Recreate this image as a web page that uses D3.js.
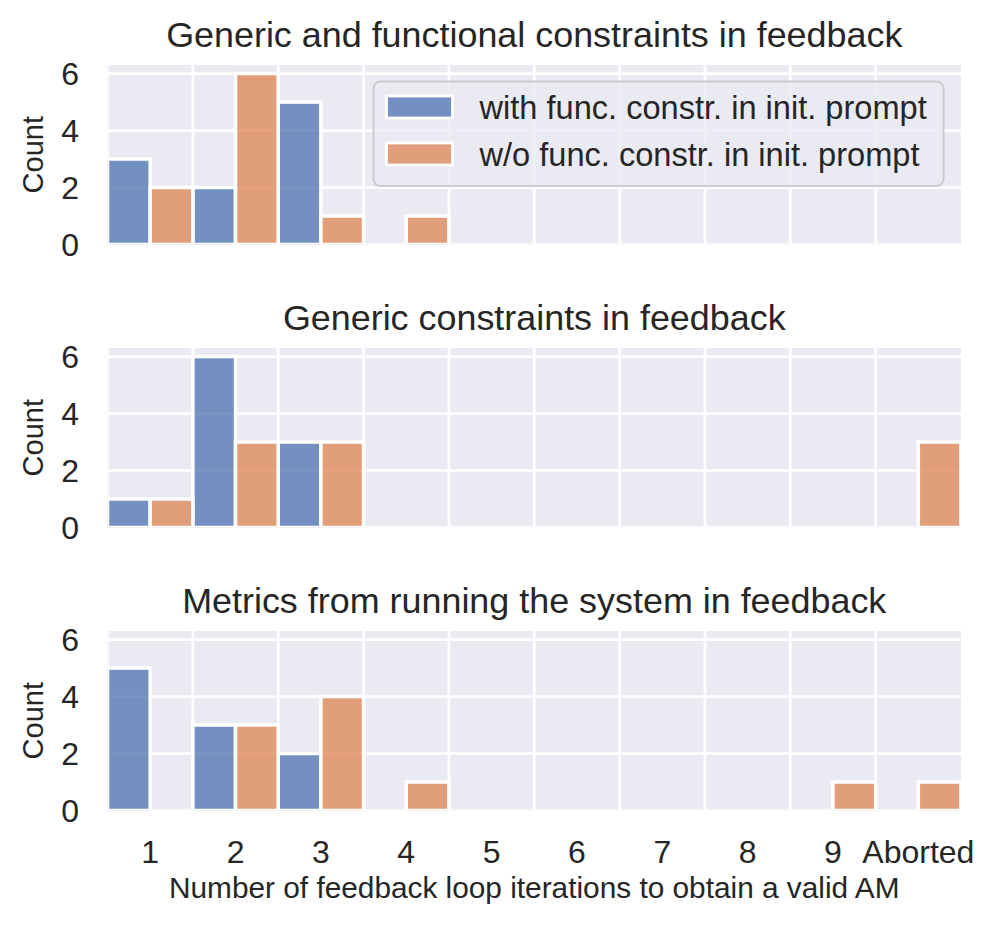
<!DOCTYPE html>
<html>
<head>
<meta charset="utf-8">
<script src="https://cdn.jsdelivr.net/npm/d3@7"></script>
<style>
  body { margin: 0; background: #fff; }
  text { font-family: "Liberation Sans", Arial, sans-serif; fill: #262626; }
</style>
</head>
<body>
<svg class="chart"></svg>
<script>
// categories on the x axis
const categories = ['1', '2', '3', '4', '5', '6', '7', '8', '9', 'Aborted'];
const series = ['with func. constr. in init. prompt', 'w/o func. constr. in init. prompt'];
const titles = [
    'Generic and functional constraints in feedback',
    'Generic constraints in feedback',
    'Metrics from running the system in feedback'
];

// counts per category, one array per panel and series
const genFuncWith = [3, 2, 5, 0, 0, 0, 0, 0, 0, 0];
const genFuncWithout = [2, 6, 1, 1, 0, 0, 0, 0, 0, 0];
const genericWith = [1, 6, 3, 0, 0, 0, 0, 0, 0, 0];
const genericWithout = [1, 3, 3, 0, 0, 0, 0, 0, 0, 3];
const metricsWith = [5, 3, 2, 0, 0, 0, 0, 0, 0, 0];
const metricsWithout = [0, 3, 4, 1, 0, 0, 0, 0, 1, 1];

const yTicks = [0, 2, 4, 6];

const panels = [
    [genFuncWith, genFuncWithout],
    [genericWith, genericWithout],
    [metricsWith, metricsWithout]
];

const colors = ['#4c72b0', '#dd8452'];

var width = 997,
    height = 932;

let left = 107.5, right = 961;
let panelTop = [65, 348, 631];
let panelH = 179.5;

let svg = d3.select('.chart')
    .attr('width', width)
    .attr('height', height);

let x = d3.scaleBand()
    .domain(categories)
    .range([left, right])
    .paddingInner(0)
    .paddingOuter(0);

let sub = d3.scaleBand()
    .domain([0, 1])
    .range([0, x.bandwidth()]);

panels.forEach((data, p) => {
    let top = panelTop[p];
    let bottom = top + panelH;
    let y = d3.scaleLinear().domain([0, 6.3]).range([bottom, top]);

    let g = svg.append('g');

    g.append('clipPath').attr('id', 'clip' + p)
        .append('rect')
        .attr('x', left).attr('y', top)
        .attr('width', right - left).attr('height', panelH);

    g.append('rect')
        .attr('x', left).attr('y', top)
        .attr('width', right - left).attr('height', panelH)
        .attr('fill', '#eaeaf2');

    let grid = g.append('g').attr('clip-path', `url(#clip${p})`);

    // vertical grid sits on the category boundaries
    grid.selectAll('line.v')
        .data(categories)
        .enter().append('line')
            .attr('x1', d => x(d)).attr('x2', d => x(d))
            .attr('y1', top).attr('y2', bottom)
            .attr('stroke', '#fff').attr('stroke-width', 2.7);

    grid.selectAll('line.h')
        .data(yTicks)
        .enter().append('line')
            .attr('x1', left).attr('x2', right)
            .attr('y1', d => y(d)).attr('y2', d => y(d))
            .attr('stroke', '#fff').attr('stroke-width', 2.7);

    data.forEach((vals, s) => {
        grid.selectAll('rect.s' + s)
            .data(vals.map((v, i) => ({cat: categories[i], v: v})))
            .enter().append('rect')
                .attr('x', d => x(d.cat) + sub(s))
                .attr('width', sub.bandwidth())
                .attr('y', d => y(d.v))
                .attr('height', d => y(0) - y(d.v))
                .attr('fill', colors[s])
                .attr('fill-opacity', 0.75)
                .attr('stroke', '#fff')
                .attr('stroke-width', 3.5);
    });

    // y tick labels
    g.selectAll('text.yt')
        .data(yTicks)
        .enter().append('text')
            .attr('x', 79)
            .attr('y', d => y(d))
            .attr('dy', '0.36em')
            .attr('text-anchor', 'end')
            .style('font-size', '32px')
            .text(d => d);

    g.append('text')
        .attr('transform', `translate(43,${(top + bottom) / 2}) rotate(-90)`)
        .attr('text-anchor', 'middle')
        .style('font-size', '29px')
        .text('Count');

    g.append('text')
        .attr('x', (left + right) / 2)
        .attr('y', top - 18.5)
        .attr('text-anchor', 'middle')
        .style('font-size', '35.9px')
        .text(titles[p]);

    if (p === 2) {
        g.selectAll('text.xt')
            .data(categories)
            .enter().append('text')
                .attr('x', d => x(d) + x.bandwidth() / 2)
                .attr('y', 863)
                .attr('text-anchor', 'middle')
                .style('font-size', '32px')
                .text(d => d);

        g.append('text')
            .attr('x', (left + right) / 2)
            .attr('y', 898)
            .attr('text-anchor', 'middle')
            .style('font-size', '29.8px')
            .text('Number of feedback loop iterations to obtain a valid AM');
    }
});

// legend in the first panel
let legend = svg.append('g');
legend.append('rect')
    .attr('x', 373.5).attr('y', 81.5)
    .attr('width', 570).attr('height', 104.5)
    .attr('rx', 7)
    .attr('fill', '#eaeaf2').attr('fill-opacity', 0.8)
    .attr('stroke', '#cccccc').attr('stroke-width', 2);

series.forEach((name, s) => {
    let cy = 107 + s * 47;
    legend.append('rect')
        .attr('x', 386.5).attr('y', cy - 11)
        .attr('width', 66).attr('height', 22)
        .attr('fill', colors[s]).attr('fill-opacity', 0.75)
        .attr('stroke', '#fff').attr('stroke-width', 2.8);
    legend.append('text')
        .attr('x', 479.5).attr('y', cy)
        .attr('dy', '0.36em')
        .style('font-size', '32.6px')
        .text(name);
});
</script>
</body>
</html>
